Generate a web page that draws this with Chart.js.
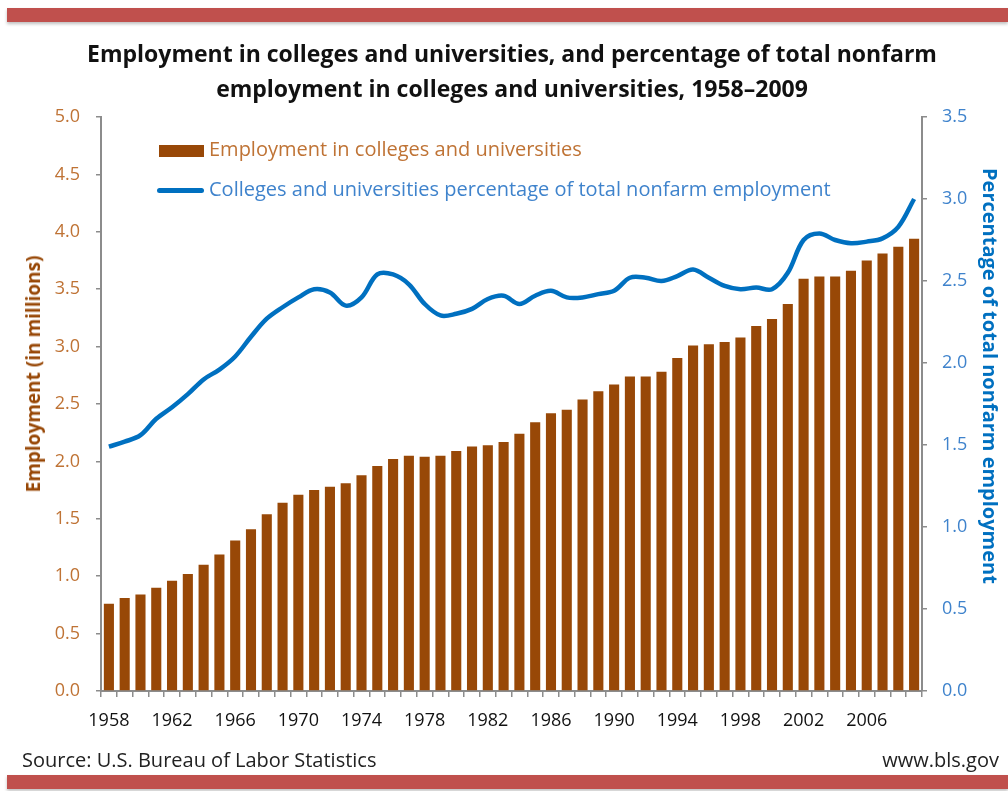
<!DOCTYPE html>
<html lang="en">
<head>
    <meta charset="UTF-8">
    <title>Employment in colleges and universities</title>
    <style>
        body {
            margin: 0;
            width: 1008px;
            height: 791px;
            background: #fff;
            font-family: "Open Sans", Lato, sans-serif;
            overflow: hidden;
            position: relative;
        }
        .band {
            position: absolute;
            left: 7px;
            right: 0;
            height: 14px;
            background: #c0504d;
            box-shadow: 0 2px 3px rgba(0,0,0,0.25);
        }
        #chartBox {
            position: absolute;
            left: 0;
            top: 0;
            width: 1008px;
            height: 791px;
        }
        .title {
            position: absolute;
            left: 0;
            top: 36px;
            width: 1024px;
            text-align: center;
            font-weight: bold;
            font-size: 23px;
            line-height: 35px;
            color: #111;
        }
        .legend {
            position: absolute;
            left: 157px;
            font-size: 20px;
            line-height: 24px;
            white-space: nowrap;
        }
        .swatch {
            display: inline-block;
            vertical-align: middle;
            margin-right: 5px;
        }
        .yTitle {
            position: absolute;
            font-weight: bold;
            line-height: 22px;
            white-space: nowrap;
        }
        .foot {
            position: absolute;
            top: 749px;
            font-size: 20px;
            line-height: 22px;
            color: #222;
        }
    </style>
</head>
<body>
    <div class="band" style="top: 8px;"></div>
    <div class="band" style="top: 775px;"></div>

    <div id="chartBox"><canvas id="myChart" width="1008" height="791"></canvas></div>

    <div class="title">Employment in colleges and universities, and percentage of total nonfarm<br>employment in colleges and universities, 1958–2009</div>

    <div class="legend" style="top: 137px; color: #bf7335;">
        <span class="swatch" style="width: 45px; height: 12px; background: #984807; margin-left: 2px;"></span>Employment in colleges and universities
    </div>
    <div class="legend" style="top: 177px; color: #3f83cc;">
        <span class="swatch" style="width: 47px; height: 5px; background: #0070c0; border-radius: 3px;"></span>Colleges and universities percentage of total nonfarm employment
    </div>

    <div class="yTitle" style="left: 33px; top: 374px; font-size: 19px; color: #984807; transform: translate(-50%, -50%) rotate(-90deg);">Employment (in millions)</div>
    <div class="yTitle" style="left: 1001px; top: 168px; font-size: 20px; color: #0070c0; transform: rotate(90deg); transform-origin: 0 0;">Percentage of total nonfarm employment</div>

    <div class="foot" style="left: 22px;">Source: U.S. Bureau of Labor Statistics</div>
    <div class="foot" style="right: 9px;">www.bls.gov</div>

<script src="https://cdn.jsdelivr.net/npm/chart.js@4"></script>
<script>
    var years = [
        '1958', '1959', '1960', '1961', '1962', '1963', '1964', '1965', '1966', '1967',
        '1968', '1969', '1970', '1971', '1972', '1973', '1974', '1975', '1976', '1977',
        '1978', '1979', '1980', '1981', '1982', '1983', '1984', '1985', '1986', '1987',
        '1988', '1989', '1990', '1991', '1992', '1993', '1994', '1995', '1996', '1997',
        '1998', '1999', '2000', '2001', '2002', '2003', '2004', '2005', '2006', '2007',
        '2008', '2009'
    ];

    // employment in colleges and universities, millions
    var employment = [
        0.76, 0.81, 0.84, 0.90, 0.96, 1.02, 1.10, 1.19, 1.31, 1.41,
        1.54, 1.64, 1.71, 1.75, 1.78, 1.81, 1.88, 1.96, 2.02, 2.05,
        2.04, 2.05, 2.09, 2.13, 2.14, 2.17, 2.24, 2.34, 2.42, 2.45,
        2.54, 2.61, 2.67, 2.74, 2.74, 2.78, 2.90, 3.01, 3.02, 3.04,
        3.08, 3.18, 3.24, 3.37, 3.59, 3.61, 3.61, 3.66, 3.75, 3.81,
        3.87, 3.94
    ];

    // share of total nonfarm employment, percent
    var percentage = [
        1.49, 1.52, 1.56, 1.66, 1.73, 1.81, 1.90, 1.96, 2.04, 2.16,
        2.27, 2.34, 2.40, 2.45, 2.43, 2.35, 2.40, 2.54, 2.54, 2.48,
        2.36, 2.29, 2.30, 2.33, 2.39, 2.41, 2.36, 2.41, 2.44, 2.40,
        2.40, 2.42, 2.44, 2.52, 2.52, 2.50, 2.53, 2.57, 2.52, 2.47,
        2.45, 2.46, 2.45, 2.55, 2.75, 2.79, 2.75, 2.73, 2.74, 2.76,
        2.83, 3.00
    ];

    var leftTicks = { min: 0, max: 5, step: 0.5 };
    var rightTicks = { min: 0, max: 3.5, step: 0.5 };

    var axisGrey = '#8c8c8c';
    var tickFont = { family: 'Open Sans', size: 18 };

    var ctx = document.getElementById('myChart').getContext('2d');

    var myChart = new Chart(ctx, {
        type: 'bar',
        data: {
            labels: years,
            datasets: [
                {
                    type: 'line',
                    label: 'Colleges and universities percentage of total nonfarm employment',
                    data: percentage,
                    yAxisID: 'y1',
                    borderColor: '#0070c0',
                    borderWidth: 4.5,
                    pointRadius: 0,
                    tension: 0.35,
                    fill: false,
                    order: 0
                },
                {
                    label: 'Employment in colleges and universities',
                    data: employment,
                    yAxisID: 'y',
                    backgroundColor: '#984807',
                    categoryPercentage: 1,
                    barPercentage: 0.64,
                    order: 1
                }
            ]
        },
        options: {
            responsive: false,
            devicePixelRatio: 1,
            animation: false,
            layout: {
                padding: { top: 117, bottom: 60, left: 0, right: 0 }
            },
            plugins: {
                legend: { display: false },
                title: { display: false },
                tooltip: { enabled: false }
            },
            scales: {
                x: {
                    offset: true,
                    grid: {
                        offset: true,
                        drawOnChartArea: false,
                        drawTicks: true,
                        tickLength: 6,
                        color: axisGrey,
                        lineWidth: 1.5
                    },
                    border: { color: axisGrey, width: 2 },
                    ticks: {
                        autoSkip: false,
                        maxRotation: 0,
                        padding: 13,
                        color: '#111',
                        font: tickFont,
                        callback: function (value, index) {
                            return index % 4 == 0 ? years[index] : '';
                        }
                    },
                    afterFit: function (scale) {
                        scale.height = 40;
                    }
                },
                y: {
                    position: 'left',
                    min: leftTicks.min,
                    max: leftTicks.max,
                    grid: {
                        drawOnChartArea: false,
                        tickLength: 5,
                        color: axisGrey,
                        lineWidth: 1.5
                    },
                    border: { color: axisGrey, width: 2 },
                    ticks: {
                        stepSize: leftTicks.step,
                        padding: 16,
                        color: '#bf7335',
                        font: tickFont,
                        callback: function (value) {
                            return value.toFixed(1);
                        }
                    },
                    afterFit: function (scale) {
                        scale.width = 101;
                    }
                },
                y1: {
                    position: 'right',
                    min: rightTicks.min,
                    max: rightTicks.max,
                    grid: {
                        drawOnChartArea: false,
                        tickLength: 5,
                        color: axisGrey,
                        lineWidth: 1.5
                    },
                    border: { color: axisGrey, width: 2 },
                    ticks: {
                        stepSize: rightTicks.step,
                        padding: 15,
                        color: '#3f83cc',
                        font: tickFont,
                        callback: function (value) {
                            return value.toFixed(1);
                        }
                    },
                    afterFit: function (scale) {
                        scale.width = 86;
                    }
                }
            }
        }
    });
</script>
</body>
</html>
